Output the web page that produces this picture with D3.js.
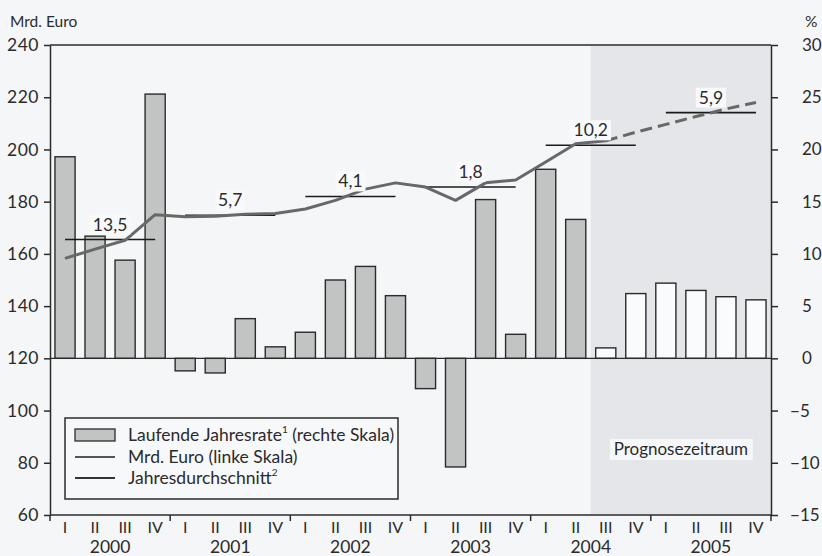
<!DOCTYPE html>
<html><head><meta charset="utf-8">
<script src="https://cdn.jsdelivr.net/npm/d3@7"></script>
<style>
html,body{margin:0;padding:0;background:#f5f6f8;}
svg{display:block;font-family:Lato,"Open Sans",sans-serif;}
</style></head>
<body><svg id="c" width="822" height="556"></svg>
<script>
// ---- data ----
const years = ["2000","2001","2002","2003","2004","2005"];
const quarters = ["I","II","III","IV"];
// Laufende Jahresrate (%), right scale
const rate = [19.3, 11.7, 9.4, 25.3, -1.2, -1.4, 3.8, 1.1, 2.5, 7.5, 8.8, 6.0,
              -2.9, -10.4, 15.2, 2.3, 18.1, 13.3, 1.0, 6.2, 7.2, 6.5, 5.9, 5.6];
// Mrd. Euro, left scale
const level = [158.3, 161.8, 165.2, 175.0, 174.2, 174.4, 175.2, 175.5, 177.2, 180.5, 184.8, 187.2,
               185.6, 180.5, 187.2, 188.3, 195.2, 202.2, 203.3, 206.6, 209.6, 212.6, 215.5, 218.0];
// Jahresdurchschnitt (Mrd. Euro) and its growth labels
const annualAvg = [165.5, 174.8, 182.0, 185.6, 201.6, 214.1];
const annualGrowth = ["13,5", "5,7", "4,1", "1,8", "10,2", "5,9"];
const leftTicks = [60, 80, 100, 120, 140, 160, 180, 200, 220, 240];
const rightTicks = [-15, -10, -5, 0, 5, 10, 15, 20, 25, 30];
const forecastStart = 18; // first forecast quarter (2004 III)
const legendLabels = ["Laufende Jahresrate", "Mrd. Euro (linke Skala)", "Jahresdurchschnitt"];

// ---- layout ----
const L = 50, R = 771, T = 45, B = 515;
const svg = d3.select("#c");
const ink = "#2b2b2b";
const idx = d3.range(rate.length);

const x = d3.scaleBand().domain(idx).range([L, R]).paddingInner(0.33).paddingOuter(0.165);
const step = x.step();
const cx = i => x(i) + x.bandwidth() / 2;
const yL = d3.scaleLinear().domain([60, 240]).range([B, T]);
const yR = d3.scaleLinear().domain([-15, 30]).range([B, T]);

// forecast shading
svg.append("rect").attr("x", L + forecastStart * step).attr("y", T)
  .attr("width", R - (L + forecastStart * step)).attr("height", B - T)
  .attr("fill", "#e5e6e9");

// bars
svg.append("g").selectAll("rect").data(idx).join("rect")
  .attr("x", i => x(i)).attr("width", x.bandwidth())
  .attr("y", i => yR(Math.max(0, rate[i])))
  .attr("height", i => Math.abs(yR(rate[i]) - yR(0)))
  .attr("fill", i => i >= forecastStart ? "#fafbfc" : "#c2c4c4")
  .attr("stroke", ink).attr("stroke-width", 1.4);

// zero line
svg.append("line").attr("x1", L).attr("x2", R).attr("y1", yR(0)).attr("y2", yR(0))
  .attr("stroke", ink).attr("stroke-width", 1.3);

// annual average lines
svg.append("g").selectAll("line").data(years.map((y, k) => k)).join("line")
  .attr("x1", k => cx(4 * k)).attr("x2", k => cx(4 * k + 3))
  .attr("y1", k => yL(annualAvg[k])).attr("y2", k => yL(annualAvg[k]))
  .attr("stroke", "#1a1a1a").attr("stroke-width", 1.6);

// level line (solid actual, dashed forecast)
const line = d3.line().x(i => cx(i)).y(i => yL(level[i]));
svg.append("path").attr("d", line(idx.filter(i => i <= forecastStart)))
  .attr("fill", "none").attr("stroke", "#686868").attr("stroke-width", 3).attr("stroke-linejoin", "round");
svg.append("path").attr("d", line(idx.filter(i => i >= forecastStart)))
  .attr("fill", "none").attr("stroke", "#686868").attr("stroke-width", 3)
  .attr("stroke-dasharray", "12,6");

// annual growth labels
const gl = svg.append("g").selectAll("g").data(years.map((y, k) => k)).join("g")
  .attr("transform", k => `translate(${(cx(4 * k) + cx(4 * k + 3)) / 2},${yL(annualAvg[k]) - 9})`);
gl.append("rect").attr("class", "bg");
gl.append("text").attr("text-anchor", "middle").attr("font-size", 17.5).attr("fill", ink)
  .text(k => annualGrowth[k]);
gl.each(function () {
  const g = d3.select(this), bb = g.select("text").node().getBBox();
  g.select("rect").attr("x", bb.x - 3).attr("y", bb.y + 1).attr("width", bb.width + 6).attr("height", bb.height - 1)
    .attr("fill", "#f8f9fa");
});

// frame top and bottom
svg.append("line").attr("x1", L).attr("x2", R).attr("y1", T).attr("y2", T).attr("stroke", ink).attr("stroke-width", 1.5);
svg.append("line").attr("x1", L).attr("x2", R).attr("y1", B).attr("y2", B).attr("stroke", ink).attr("stroke-width", 1.5);

// left axis
const ax = svg.append("g").attr("transform", `translate(${L},0)`)
  .call(d3.axisLeft(yL).tickValues(leftTicks).tickSize(6).tickSizeOuter(0).tickPadding(5));
ax.selectAll("text").attr("font-size", 17.5).attr("fill", ink).attr("font-family", "Lato")
  .attr("letter-spacing", 0.5);
ax.selectAll("line,path").attr("stroke", ink).attr("stroke-width", 1.5);

// right axis
const ar = svg.append("g").attr("transform", `translate(${R},0)`)
  .call(d3.axisRight(yR).tickValues(rightTicks).tickSize(7).tickSizeOuter(0).tickPadding(24)
    .tickFormat(d => d < 0 ? "\u2212" + Math.abs(d) : String(d)));
ar.selectAll("text").attr("font-size", 17).attr("fill", ink).attr("font-family", "Lato")
  .attr("dx", d => d < 0 ? "-0.7em" : 0);
ar.selectAll("line,path").attr("stroke", ink).attr("stroke-width", 1.5);

// bottom: quarter labels, year separators, year labels
svg.append("g").selectAll("text").data(idx).join("text")
  .attr("x", i => cx(i)).attr("y", 533).attr("text-anchor", "middle")
  .attr("font-size", 16).attr("fill", ink).text(i => quarters[i % 4]);
svg.append("g").selectAll("line").data(d3.range(0, years.length + 1)).join("line")
  .attr("x1", k => L + 4 * k * step).attr("x2", k => L + 4 * k * step)
  .attr("y1", B).attr("y2", B + 6).attr("stroke", ink).attr("stroke-width", 1.5);
svg.append("g").selectAll("text").data(years).join("text")
  .attr("x", (y, k) => (cx(4 * k) + cx(4 * k + 3)) / 2).attr("y", 553).attr("text-anchor", "middle")
  .attr("font-size", 17.5).attr("fill", ink).text(y => y);

// unit labels
svg.append("text").attr("x", 10).attr("y", 27).attr("font-size", 15.5).attr("fill", ink).text("Mrd. Euro");
svg.append("text").attr("x", 805).attr("y", 27).attr("font-size", 15.5).attr("fill", ink).text("%");

// Prognosezeitraum label
const pg = svg.append("g").attr("transform", `translate(${(L + forecastStart * step + R) / 2},455)`);
pg.append("rect").attr("x", -71).attr("y", -16).attr("width", 143).attr("height", 21).attr("fill", "#f6f7f9");
pg.append("text").attr("text-anchor", "middle").attr("font-size", 17).attr("fill", ink).text("Prognosezeitraum");

// legend
const lg = svg.append("g");
lg.append("rect").attr("x", 65).attr("y", 418).attr("width", 333).attr("height", 81)
  .attr("fill", "#f7f8fa").attr("stroke", ink).attr("stroke-width", 1.5);
const rows = [435, 457, 478];
lg.append("rect").attr("x", 75).attr("y", rows[0] - 6).attr("width", 40).attr("height", 12)
  .attr("fill", "#c2c4c4").attr("stroke", ink).attr("stroke-width", 1.3);
lg.append("line").attr("x1", 75).attr("x2", 115).attr("y1", rows[1]).attr("y2", rows[1])
  .attr("stroke", "#555").attr("stroke-width", 2);
lg.append("line").attr("x1", 75).attr("x2", 115).attr("y1", rows[2]).attr("y2", rows[2])
  .attr("stroke", "#333").attr("stroke-width", 2);
const t0 = lg.append("text").attr("x", 128).attr("y", rows[0] + 6).attr("font-size", 17.5).attr("fill", ink);
t0.append("tspan").text(legendLabels[0]);
t0.append("tspan").attr("font-size", 10).attr("dy", -8).text("1");
t0.append("tspan").attr("dy", 8).text(" (rechte Skala)");
lg.append("text").attr("x", 128).attr("y", rows[1] + 6).attr("font-size", 17.5).attr("fill", ink).text(legendLabels[1]);
const t2 = lg.append("text").attr("x", 128).attr("y", rows[2] + 6).attr("font-size", 17.5).attr("fill", ink);
t2.append("tspan").text(legendLabels[2]);
t2.append("tspan").attr("font-size", 10).attr("dy", -8).text("2");
</script></body></html>
